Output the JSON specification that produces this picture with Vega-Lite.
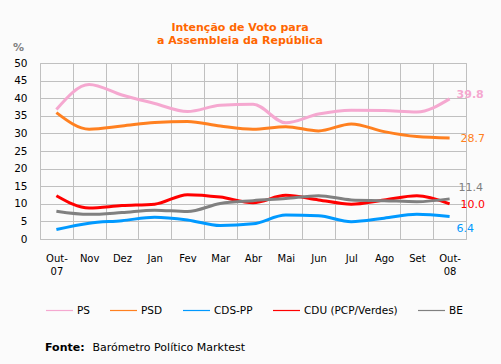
{
  "$schema": "https://vega.github.io/schema/vega-lite/v6.json",
  "width": 426,
  "height": 176,
  "autosize": {"type": "none"},
  "padding": {"left": 40, "top": 63, "right": 35, "bottom": 125},
  "background": "#fbfbfb",
  "title": {
    "text": ["Intenção de Voto para", "a Assembleia da República"],
    "color": "#ff6600",
    "fontSize": 11,
    "fontWeight": "bold",
    "font": "DejaVu Sans",
    "anchor": "middle",
    "frame": "group",
    "dx": -13,
    "offset": -5,
    "lineHeight": 13
  },
  "config": {
    "view": {"stroke": "#c0c0c0"},
    "font": "DejaVu Sans"
  },
  "data": {
    "values": [
      {"month": "Out-07", "party": "PS", "pct": 36.8},
      {"month": "Nov", "party": "PS", "pct": 43.9},
      {"month": "Dez", "party": "PS", "pct": 40.9},
      {"month": "Jan", "party": "PS", "pct": 38.5},
      {"month": "Fev", "party": "PS", "pct": 36.2},
      {"month": "Mar", "party": "PS", "pct": 38.0},
      {"month": "Abr", "party": "PS", "pct": 38.3},
      {"month": "Mai", "party": "PS", "pct": 33.0},
      {"month": "Jun", "party": "PS", "pct": 35.5},
      {"month": "Jul", "party": "PS", "pct": 36.6},
      {"month": "Ago", "party": "PS", "pct": 36.5},
      {"month": "Set", "party": "PS", "pct": 36.1},
      {"month": "Out-08", "party": "PS", "pct": 39.8},
      {"month": "Out-07", "party": "PSD", "pct": 35.9},
      {"month": "Nov", "party": "PSD", "pct": 31.2},
      {"month": "Dez", "party": "PSD", "pct": 32.1},
      {"month": "Jan", "party": "PSD", "pct": 33.1},
      {"month": "Fev", "party": "PSD", "pct": 33.4},
      {"month": "Mar", "party": "PSD", "pct": 32.1},
      {"month": "Abr", "party": "PSD", "pct": 31.2},
      {"month": "Mai", "party": "PSD", "pct": 31.9},
      {"month": "Jun", "party": "PSD", "pct": 30.7},
      {"month": "Jul", "party": "PSD", "pct": 32.7},
      {"month": "Ago", "party": "PSD", "pct": 30.5},
      {"month": "Set", "party": "PSD", "pct": 29.1},
      {"month": "Out-08", "party": "PSD", "pct": 28.7},
      {"month": "Out-07", "party": "CDS-PP", "pct": 2.7},
      {"month": "Nov", "party": "CDS-PP", "pct": 4.5},
      {"month": "Dez", "party": "CDS-PP", "pct": 5.2},
      {"month": "Jan", "party": "CDS-PP", "pct": 6.2},
      {"month": "Fev", "party": "CDS-PP", "pct": 5.4},
      {"month": "Mar", "party": "CDS-PP", "pct": 3.8},
      {"month": "Abr", "party": "CDS-PP", "pct": 4.3},
      {"month": "Mai", "party": "CDS-PP", "pct": 6.8},
      {"month": "Jun", "party": "CDS-PP", "pct": 6.6},
      {"month": "Jul", "party": "CDS-PP", "pct": 4.9},
      {"month": "Ago", "party": "CDS-PP", "pct": 5.9},
      {"month": "Set", "party": "CDS-PP", "pct": 7.0},
      {"month": "Out-08", "party": "CDS-PP", "pct": 6.4},
      {"month": "Out-07", "party": "CDU (PCP/Verdes)", "pct": 12.3},
      {"month": "Nov", "party": "CDU (PCP/Verdes)", "pct": 8.8},
      {"month": "Dez", "party": "CDU (PCP/Verdes)", "pct": 9.5},
      {"month": "Jan", "party": "CDU (PCP/Verdes)", "pct": 9.9},
      {"month": "Fev", "party": "CDU (PCP/Verdes)", "pct": 12.6},
      {"month": "Mar", "party": "CDU (PCP/Verdes)", "pct": 11.9},
      {"month": "Abr", "party": "CDU (PCP/Verdes)", "pct": 10.3},
      {"month": "Mai", "party": "CDU (PCP/Verdes)", "pct": 12.4},
      {"month": "Jun", "party": "CDU (PCP/Verdes)", "pct": 11.1},
      {"month": "Jul", "party": "CDU (PCP/Verdes)", "pct": 9.9},
      {"month": "Ago", "party": "CDU (PCP/Verdes)", "pct": 11.1},
      {"month": "Set", "party": "CDU (PCP/Verdes)", "pct": 12.3},
      {"month": "Out-08", "party": "CDU (PCP/Verdes)", "pct": 10.0},
      {"month": "Out-07", "party": "BE", "pct": 7.9},
      {"month": "Nov", "party": "BE", "pct": 7.0},
      {"month": "Dez", "party": "BE", "pct": 7.5},
      {"month": "Jan", "party": "BE", "pct": 8.2},
      {"month": "Fev", "party": "BE", "pct": 7.8},
      {"month": "Mar", "party": "BE", "pct": 10.1},
      {"month": "Abr", "party": "BE", "pct": 10.9},
      {"month": "Mai", "party": "BE", "pct": 11.5},
      {"month": "Jun", "party": "BE", "pct": 12.3},
      {"month": "Jul", "party": "BE", "pct": 11.1},
      {"month": "Ago", "party": "BE", "pct": 10.9},
      {"month": "Set", "party": "BE", "pct": 10.6},
      {"month": "Out-08", "party": "BE", "pct": 11.4}
    ]
  },
  "encoding": {
    "x": {
      "field": "month",
      "type": "ordinal",
      "sort": ["Out-07", "Nov", "Dez", "Jan", "Fev", "Mar", "Abr", "Mai", "Jun", "Jul", "Ago", "Set", "Out-08"],
      "scale": {"type": "band", "paddingInner": 0, "paddingOuter": 0},
      "axis": {
        "tickBand": "extent",
        "grid": true,
        "gridColor": "#c0c0c0",
        "domain": false,
        "ticks": false,
        "labelAngle": 0,
        "labelPadding": 14,
        "labelColor": "#000000",
        "labelFontSize": 10,
        "labelLineHeight": 13,
        "labelExpr": "length(datum.label) > 4 ? [slice(datum.label, 0, 4), slice(datum.label, 4)] : datum.label",
        "title": "Barómetro Político Marktest",
        "titleX": 52,
        "titleY": 108,
        "titleAlign": "left",
        "titleAnchor": "start",
        "titleBaseline": "middle",
        "titleFontWeight": "normal",
        "titleFontSize": 11,
        "titleColor": "#000000"
      }
    },
    "y": {
      "field": "pct",
      "type": "quantitative",
      "scale": {"domain": [0, 50], "nice": false},
      "axis": {
        "values": [0, 5, 10, 15, 20, 25, 30, 35, 40, 45, 50],
        "title": "%",
        "titleAngle": 0,
        "titleX": -22,
        "titleY": -16,
        "titleAlign": "center",
        "titleBaseline": "middle",
        "titleColor": "#808080",
        "titleFontWeight": "bold",
        "titleFontSize": 11,
        "grid": true,
        "gridColor": "#c0c0c0",
        "domain": false,
        "ticks": false,
        "labelPadding": 13,
        "labelColor": "#000000",
        "labelFontSize": 10.5
      }
    },
    "color": {
      "field": "party",
      "type": "nominal",
      "scale": {
        "domain": ["PS", "PSD", "CDS-PP", "CDU (PCP/Verdes)", "BE"],
        "range": ["#f5a8d0", "#ff8020", "#0099ff", "#ff0000", "#808080"]
      },
      "legend": {
        "orient": "none",
        "legendX": 5,
        "legendY": 233,
        "direction": "horizontal",
        "columns": 5,
        "title": "Fonte:",
        "titleOrient": "bottom",
        "titleAnchor": "start",
        "titleAlign": "left",
        "titleFontWeight": "bold",
        "titleFontSize": 11,
        "titleColor": "#000000",
        "titlePadding": 26,
        "symbolType": "stroke",
        "symbolSize": 729,
        "symbolStrokeWidth": 1.2,
        "labelFontSize": 10.5,
        "labelColor": "#000000",
        "labelOffset": 3,
        "columnPadding": 17
      }
    }
  },
  "layer": [
    {
      "mark": {"type": "line", "interpolate": "monotone", "strokeWidth": 3}
    },
    {
      "transform": [{"filter": "datum.month == 'Out-08' && (datum.party == 'PSD' || datum.party == 'CDU (PCP/Verdes)')"}],
      "mark": {"type": "text", "align": "left", "dx": 11, "dy": 1, "fontSize": 11},
      "encoding": {
        "text": {"field": "pct", "type": "quantitative", "format": ".1f"}
      }
    },
    {
      "transform": [{"filter": "datum.month == 'Out-08' && datum.party == 'PS'"}],
      "mark": {"type": "text", "align": "left", "dx": 7, "dy": -4, "fontSize": 11, "fontWeight": "bold"},
      "encoding": {
        "text": {"field": "pct", "type": "quantitative", "format": ".1f"}
      }
    },
    {
      "transform": [{"filter": "datum.month == 'Out-08' && datum.party == 'BE'"}],
      "mark": {"type": "text", "align": "left", "dx": 9, "dy": -11, "fontSize": 11},
      "encoding": {
        "text": {"field": "pct", "type": "quantitative", "format": ".1f"}
      }
    },
    {
      "transform": [{"filter": "datum.month == 'Out-08' && datum.party == 'CDS-PP'"}],
      "mark": {"type": "text", "align": "left", "dx": 7, "dy": 13, "fontSize": 11},
      "encoding": {
        "text": {"field": "pct", "type": "quantitative", "format": ".1f"}
      }
    }
  ]
}
